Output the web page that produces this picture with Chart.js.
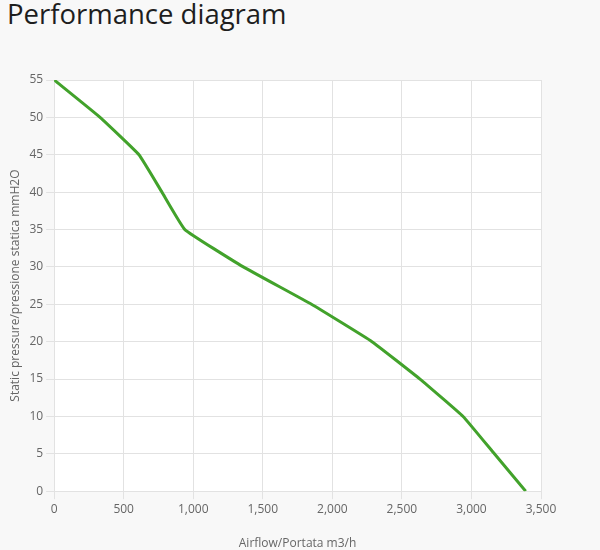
<!DOCTYPE html>
<html>
<head>
<meta charset="utf-8">
<script src="https://cdn.jsdelivr.net/npm/chart.js@4"></script>
<style>
  body { margin: 0; background: #f8f8f8; width: 600px; height: 550px; overflow: hidden; position: relative; }
  h1 { position: absolute; left: 7px; top: -5px; margin: 0; font-family: "Open Sans", sans-serif; font-weight: 400; font-size: 27.5px; color: #1e1e1e; }
  #wrap { position: absolute; left: 0; top: 60px; width: 600px; height: 500px; }
</style>
</head>
<body>
<h1>Performance diagram</h1>
<div id="wrap"><canvas id="myChart"></canvas></div>
<script>
// portata (m3/h) e pressione statica (mmH2O)
var airflow = [0, 330, 610, 775, 940, 1360, 1850, 2285, 2630, 2940, 3165, 3390];
var pressure = [55, 50, 45, 40, 35, 30, 25, 20, 15, 10, 5, 0];

var points = airflow.map(function(v, i) { return { x: v, y: pressure[i] }; });

// witte achtergrond alleen in het plotgebied
var whiteArea = {
  id: 'whiteArea',
  beforeDraw: function(chart) {
    var a = chart.chartArea;
    chart.ctx.save();
    chart.ctx.fillStyle = '#ffffff';
    chart.ctx.fillRect(a.left, a.top, a.right - a.left, a.bottom - a.top);
    chart.ctx.restore();
  }
};

Chart.defaults.font.family = '"Open Sans", sans-serif';
Chart.defaults.color = '#666';

var ctx = document.getElementById('myChart').getContext('2d');
var myChart = new Chart(ctx, {
  type: 'line',
  data: {
    datasets: [{
      data: points,
      borderColor: '#42a22b',
      borderWidth: 3,
      pointRadius: 0,
      tension: 0.1,
      fill: false
    }]
  },
  options: {
    responsive: true,
    maintainAspectRatio: false,
    animation: false,
    layout: { padding: { top: 20, right: 59, bottom: 0, left: 4 } },
    plugins: { legend: { display: false }, tooltip: { enabled: false } },
    scales: {
      x: {
        type: 'linear',
        min: 0,
        max: 3500,
        ticks: { stepSize: 500, font: { size: 12 } },
        grid: { color: '#e2e2e2' },
        border: { color: '#e2e2e2' },
        title: { display: true, text: 'Airflow/Portata m3/h', font: { size: 12 }, padding: { top: 17, bottom: 9 } }
      },
      y: {
        min: 0,
        max: 55,
        ticks: { stepSize: 5, font: { size: 12 } },
        grid: { color: '#e2e2e2' },
        border: { color: '#e2e2e2' },
        title: { display: true, text: 'Static pressure/pressione statica mmH2O', font: { size: 12 } }
      }
    }
  },
  plugins: [whiteArea]
});
</script>
</body>
</html>
